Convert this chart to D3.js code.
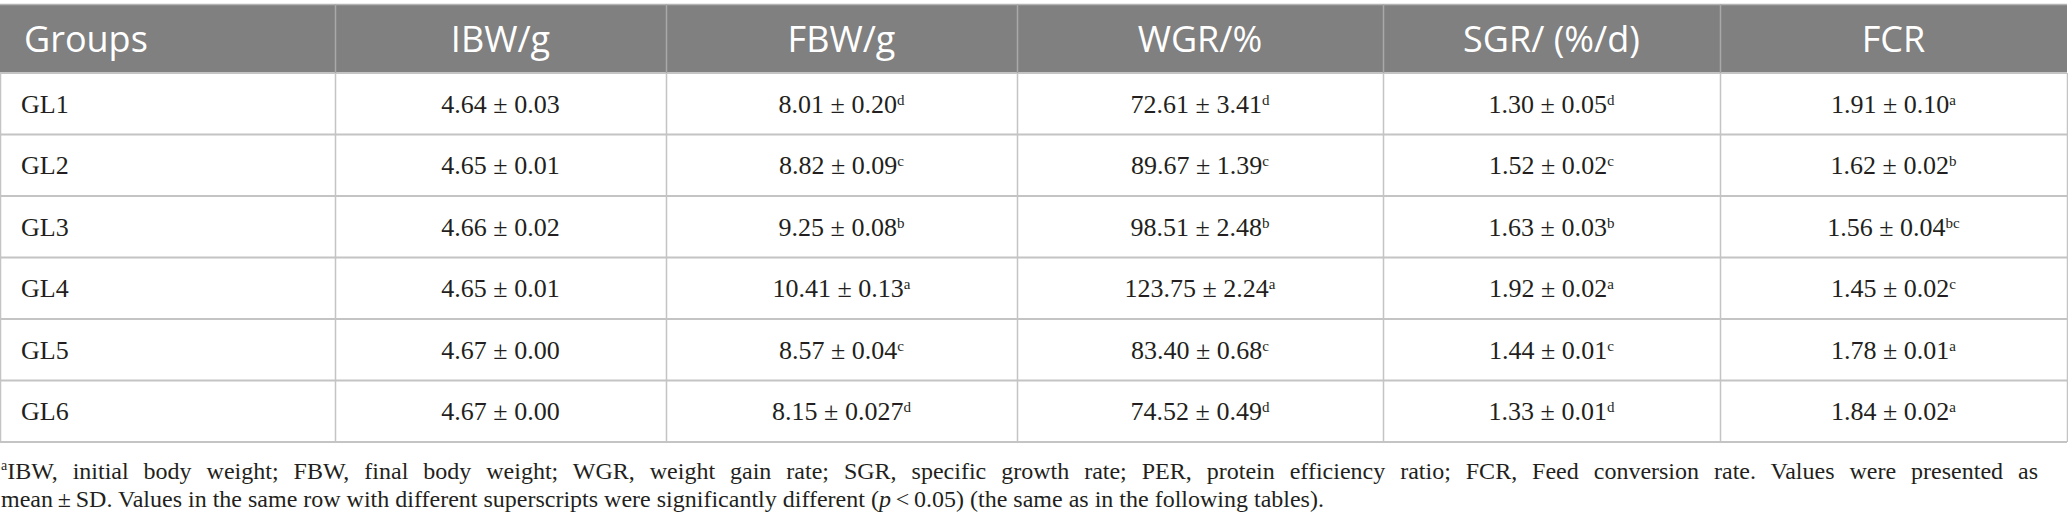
<!DOCTYPE html>
<html>
<head>
<meta charset="utf-8">
<script src="https://cdn.jsdelivr.net/npm/d3@7"></script>
<style>
  body { margin: 0; background: #fff; }
  svg { display: block; }
</style>
</head>
<body>
<svg id="chart"></svg>
<script>
const width = 2068;
const height = 531;

// table content
const columns = ["Groups", "IBW/g", "FBW/g", "WGR/%", "SGR/ (%/d)", "FCR"];
const groups = ["GL1", "GL2", "GL3", "GL4", "GL5", "GL6"];
const ibw = ["4.64 ± 0.03", "4.65 ± 0.01", "4.66 ± 0.02", "4.65 ± 0.01", "4.67 ± 0.00", "4.67 ± 0.00"];
const ibwSup = ["", "", "", "", "", ""];
const fbw = ["8.01 ± 0.20", "8.82 ± 0.09", "9.25 ± 0.08", "10.41 ± 0.13", "8.57 ± 0.04", "8.15 ± 0.027"];
const fbwSup = ["d", "c", "b", "a", "c", "d"];
const wgr = ["72.61 ± 3.41", "89.67 ± 1.39", "98.51 ± 2.48", "123.75 ± 2.24", "83.40 ± 0.68", "74.52 ± 0.49"];
const wgrSup = ["d", "c", "b", "a", "c", "d"];
const sgr = ["1.30 ± 0.05", "1.52 ± 0.02", "1.63 ± 0.03", "1.92 ± 0.02", "1.44 ± 0.01", "1.33 ± 0.01"];
const sgrSup = ["d", "c", "b", "a", "c", "d"];
const fcr = ["1.91 ± 0.10", "1.62 ± 0.02", "1.56 ± 0.04", "1.45 ± 0.02", "1.78 ± 0.01", "1.84 ± 0.02"];
const fcrSup = ["a", "b", "bc", "c", "a", "a"];

const noteLine1 = "IBW, initial body weight; FBW, final body weight; WGR, weight gain rate; SGR, specific growth rate; PER, protein efficiency ratio; FCR, Feed conversion rate. Values were presented as";
const noteLine2a = "mean\u2009±\u2009SD. Values in the same row with different superscripts were significantly different (";
const noteLine2b = "\u2009<\u20090.05) (the same as in the following tables).";

// layout
const colEdges = [0, 335, 666, 1017, 1383, 1720, 2067];
const headTop = 4;
const headBottom = 73;
const tableBottom = 442;
const noteRight = 2038;
const serif = "'Liberation Serif', 'Times New Roman', serif";
const sans = "'Open Sans', 'Noto Sans', sans-serif";

let svg = d3.select("#chart")
  .attr("width", width)
  .attr("height", height);

let scaleRow = d3.scaleBand()
  .domain(groups)
  .range([headBottom, tableBottom]);

let cells = [
  {vals: ibw, sups: ibwSup},
  {vals: fbw, sups: fbwSup},
  {vals: wgr, sups: wgrSup},
  {vals: sgr, sups: sgrSup},
  {vals: fcr, sups: fcrSup}
];

// header band
svg.append("rect")
  .attr("x", colEdges[0])
  .attr("y", headTop)
  .attr("width", colEdges[colEdges.length - 1] - colEdges[0])
  .attr("height", headBottom - headTop)
  .attr("fill", "#7f807f");

svg.append("line")
  .attr("x1", 0).attr("x2", colEdges[colEdges.length - 1])
  .attr("y1", headTop + 0.5).attr("y2", headTop + 0.5)
  .attr("stroke", "#b4b4b4").attr("stroke-width", 1.5);

// header text
svg.selectAll(".head")
  .data(columns)
  .enter()
  .append("text")
  .attr("x", (d, i) => i == 0 ? 24 : (colEdges[i] + colEdges[i + 1]) / 2)
  .attr("y", (headTop + headBottom) / 2 + 13)
  .attr("text-anchor", (d, i) => i == 0 ? "start" : "middle")
  .style("font-family", sans)
  .style("font-size", "36px")
  .style("fill", "#fff")
  .text(d => d);

// horizontal rules
let rowLines = groups.map(g => scaleRow(g)).concat([tableBottom]);
svg.selectAll(".hrule")
  .data(rowLines)
  .enter()
  .append("line")
  .attr("x1", 0).attr("x2", colEdges[colEdges.length - 1])
  .attr("y1", d => d).attr("y2", d => d)
  .attr("stroke", "#c4c4c4")
  .attr("stroke-width", 2);

// vertical rules: header part darker, body part light
svg.selectAll(".vrule")
  .data(colEdges.slice(1, -1))
  .enter()
  .append("line")
  .attr("x1", d => d + 0.5).attr("x2", d => d + 0.5)
  .attr("y1", headTop)
  .attr("y2", headBottom)
  .attr("stroke", "#a9a9a9")
  .attr("stroke-width", 1.5);

svg.selectAll(".vrule-body")
  .data(colEdges)
  .enter()
  .append("line")
  .attr("x1", d => d + 0.5).attr("x2", d => d + 0.5)
  .attr("y1", headBottom)
  .attr("y2", tableBottom)
  .attr("stroke", "#c4c4c4")
  .attr("stroke-width", 1.5);

// group labels
svg.selectAll(".grp")
  .data(groups)
  .enter()
  .append("text")
  .attr("x", 21)
  .attr("y", d => scaleRow(d) + scaleRow.bandwidth() / 2 + 9)
  .style("font-family", serif)
  .style("font-size", "26px")
  .style("fill", "#231f20")
  .text(d => d);

// value cells
cells.forEach((col, ci) => {
  let cx = (colEdges[ci + 1] + colEdges[ci + 2]) / 2;
  let t = svg.selectAll(".cell" + ci)
    .data(groups)
    .enter()
    .append("text")
    .attr("x", cx)
    .attr("y", d => scaleRow(d) + scaleRow.bandwidth() / 2 + 9)
    .attr("text-anchor", "middle")
    .style("font-family", serif)
    .style("font-size", "26px")
    .style("fill", "#231f20");
  t.append("tspan").text((d, i) => col.vals[i]);
  t.append("tspan")
    .attr("dy", "-0.55em")
    .style("font-size", "15px")
    .text((d, i) => col.sups[i]);
});

// footnote, first line justified to the table width
let note1 = svg.append("text")
  .attr("x", 1)
  .attr("y", 479)
  .style("font-family", serif)
  .style("font-size", "24px")
  .style("fill", "#231f20");
note1.append("tspan").attr("dy", -9).style("font-size", "14px").text("a");
let body1 = note1.append("tspan").attr("dy", 9).text(noteLine1);

let natural = note1.node().getComputedTextLength();
let gaps = noteLine1.split(" ").length - 1;
body1.attr("word-spacing", Math.max(0, (noteRight - 1 - natural) / gaps));

let note2 = svg.append("text")
  .attr("x", 1)
  .attr("y", 507)
  .style("font-family", serif)
  .style("font-size", "24px")
  .style("fill", "#231f20");
note2.append("tspan").text(noteLine2a);
note2.append("tspan").style("font-style", "italic").text("p");
note2.append("tspan").text(noteLine2b);
</script>
</body>
</html>
